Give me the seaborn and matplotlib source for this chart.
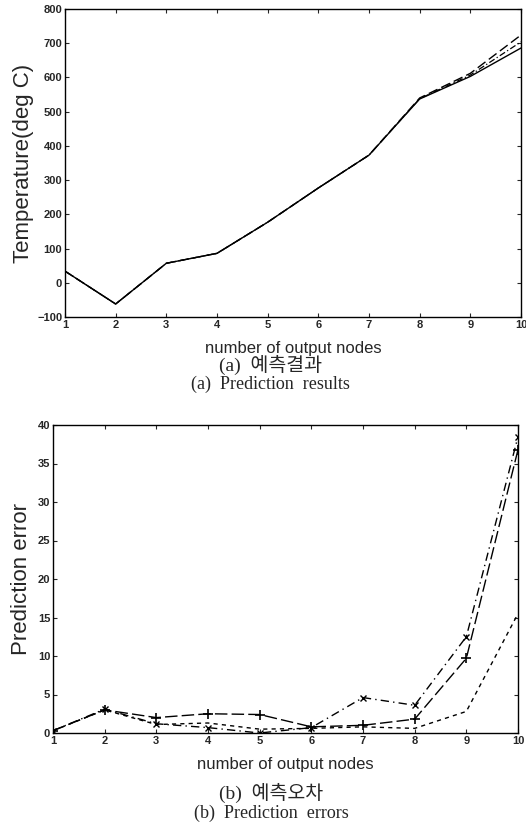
import matplotlib
matplotlib.use("Agg")
import matplotlib.pyplot as plt
import seaborn as sns

# x axis: number of output nodes
nodes = [1, 2, 3, 4, 5, 6, 7, 8, 9, 10]

# (a) prediction results, deg C
temp_actual = [34, -62, 57, 86, 177, 277, 373, 537, 603, 686]
temp_pred_dash = [34, -62, 57, 86, 177, 277, 373, 540, 612, 724]
temp_pred_dashdot = [34, -62, 57, 86, 177, 277, 373, 538, 607, 704]

# (b) prediction errors
err_plus = [0.3, 3.0, 2.0, 2.5, 2.4, 0.8, 1.0, 1.8, 9.7, 36.8]
err_x = [0.3, 3.1, 1.2, 0.7, 0.0, 0.7, 4.6, 3.6, 12.5, 38.5]
err_dot = [0.3, 3.0, 1.1, 1.3, 0.5, 0.6, 0.8, 0.6, 2.8, 15.5]

sns.set_style("ticks")
plt.rcParams['font.family'] = ['Liberation Sans', 'DejaVu Sans']

fig = plt.figure(figsize=(5.26, 8.31), dpi=100)
ax1 = fig.add_axes([65 / 526, 1 - 317 / 831, 456 / 526, 308 / 831])
ax2 = fig.add_axes([53 / 526, 1 - 733 / 831, 465 / 526, 308 / 831])

sns.lineplot(x=nodes, y=temp_actual, ax=ax1, color='black', linewidth=1.0)
sns.lineplot(x=nodes, y=temp_pred_dash, ax=ax1, color='black', linewidth=1.0,
             linestyle=(0, (7, 3)))
sns.lineplot(x=nodes, y=temp_pred_dashdot, ax=ax1, color='black', linewidth=0.9,
             linestyle=(0, (5, 2, 1, 2)))

sns.lineplot(x=nodes, y=err_plus, ax=ax2, color='black', linewidth=1.0,
             linestyle=(0, (9, 3)), marker='+', markersize=7,
             markeredgewidth=1.2, markeredgecolor='black')
sns.lineplot(x=nodes, y=err_x, ax=ax2, color='black', linewidth=1.0,
             linestyle=(0, (6, 3, 1, 3)), marker='x', markersize=4,
             markeredgewidth=1.0, markeredgecolor='black')
sns.lineplot(x=nodes, y=err_dot, ax=ax2, color='black', linewidth=1.0,
             linestyle=(0, (3, 3)))

ax1.set_xlim(1, 10)
ax1.set_ylim(-100, 800)
ax1.set_yticks(range(-100, 801, 100))
ax2.set_xlim(1, 10)
ax2.set_ylim(0, 40)
ax2.set_yticks(range(0, 41, 5))

for ax in (ax1, ax2):
    ax.set_xticks(nodes)
    ax.tick_params(direction='in', top=True, right=True, length=3,
                   labelsize=8, width=0.8, pad=2)
    for lbl in ax.get_xticklabels() + ax.get_yticklabels():
        lbl.set_fontweight('bold')
    for sp in ax.spines.values():
        sp.set_visible(True)
        sp.set_linewidth(1.0)
        sp.set_color('black')
    ax.set_xlabel('number of output nodes', fontsize=12, labelpad=8)

ax1.set_ylabel('Temperature(deg C)', fontsize=16, labelpad=2)
ax2.set_ylabel('Prediction error', fontsize=16, labelpad=4)

serif = ['Liberation Serif', 'Noto Sans CJK KR']
fig.text(0.515, 1 - 365 / 831, '(a)  예측결과', ha='center', va='center',
         fontsize=14, family=serif)
fig.text(0.515, 1 - 384 / 831, '(a)  Prediction  results', ha='center', va='center',
         fontsize=13, family=serif)
fig.text(0.515, 1 - 793 / 831, '(b)  예측오차', ha='center', va='center',
         fontsize=14, family=serif)
fig.text(0.515, 1 - 813 / 831, '(b)  Prediction  errors', ha='center', va='center',
         fontsize=13, family=serif)

fig.savefig('out.png', dpi=100)
